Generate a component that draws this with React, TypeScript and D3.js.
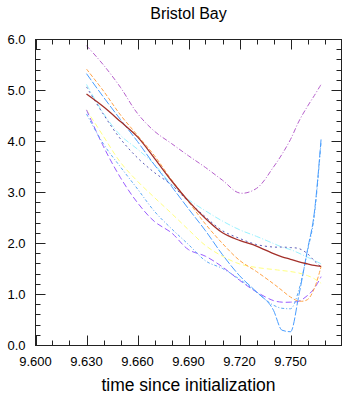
import React, { useEffect, useRef } from "react";
import * as d3 from "d3";

// sample times shared by every series
const times = [9.63, 9.64, 9.65, 9.66, 9.67, 9.68, 9.69, 9.7, 9.71, 9.72, 9.73, 9.74, 9.745, 9.75, 9.755, 9.76, 9.764, 9.768];

const magentaVals = [5.88, 5.5, 5.06, 4.55, 4.2, 3.96, 3.72, 3.49, 3.24, 2.99, 3.08, 3.5, 3.75, 4.04, 4.4, 4.69, 4.9, 5.12];
const orangeVals = [5.42, 4.99, 4.52, 4.12, 3.72, 3.25, 2.82, 2.38, 2.0, 1.67, 1.45, 1.21, 1.08, 0.95, 0.87, 0.9, 1.12, 1.55];
const blueAVals = [5.33, 4.87, 4.43, 4.0, 3.54, 3.12, 2.68, 2.25, 1.78, 1.37, 1.05, 0.69, 0.3, 0.27, 1.0, 1.88, 2.6, 4.05];
const cyanVals = [5.12, 4.55, 4.12, 3.85, 3.55, 3.16, 2.86, 2.64, 2.44, 2.27, 2.14, 2.0, 1.93, 1.88, 1.81, 1.73, 1.67, 1.6];
const navyVals = [5.07, 4.53, 4.05, 3.68, 3.39, 3.15, 2.82, 2.52, 2.25, 2.1, 1.98, 1.93, 1.93, 1.92, 1.9, 1.8, 1.66, 1.54];
const brownVals = [4.93, 4.68, 4.39, 4.09, 3.67, 3.23, 2.83, 2.49, 2.21, 2.06, 1.95, 1.8, 1.74, 1.69, 1.64, 1.6, 1.57, 1.55];
const violetVals = [4.62, 3.9, 3.29, 2.8, 2.43, 2.21, 1.88, 1.75, 1.54, 1.28, 1.05, 0.88, 0.85, 0.85, 0.87, 0.98, 1.12, 1.35];
const blueBVals = [4.54, 3.95, 3.5, 3.07, 2.63, 2.29, 1.98, 1.66, 1.51, 1.3, 1.05, 0.79, 0.73, 0.72, 1.1, 1.85, 2.55, 4.0];
const yellowVals = [4.62, 4.1, 3.59, 3.22, 2.9, 2.59, 2.27, 1.96, 1.75, 1.6, 1.53, 1.49, 1.47, 1.45, 1.42, 1.37, 1.31, 1.22];

const xMajor = [9.6, 9.63, 9.66, 9.69, 9.72, 9.75];
const xMinor = [9.61, 9.62, 9.64, 9.65, 9.67, 9.68, 9.7, 9.71, 9.73, 9.74, 9.76, 9.77];
const yMajor = [0, 1, 2, 3, 4, 5, 6];

const series = [
  { name: "yellow", vals: yellowVals, color: "#ffff80", dash: "5,3", w: 1, sharp: false },
  { name: "cyan", vals: cyanVals, color: "#99f2ff", dash: "6,2,1,2", w: 1, sharp: false },
  { name: "violet", vals: violetVals, color: "#9a5cff", dash: "6,3", w: 1, sharp: false },
  { name: "blueB", vals: blueBVals, color: "#5eaaf5", dash: "3,2,1,2", w: 1, sharp: true },
  { name: "blueA", vals: blueAVals, color: "#4a9eff", dash: "8,2", w: 1, sharp: true },
  { name: "orange", vals: orangeVals, color: "#ffa347", dash: "4,2", w: 1, sharp: false },
  { name: "navy", vals: navyVals, color: "#5a5ab8", dash: "2,3", w: 1, sharp: false },
  { name: "magenta", vals: magentaVals, color: "#b660cc", dash: "5,2,1,2", w: 1, sharp: false },
  { name: "brown", vals: brownVals, color: "#a3302a", dash: null, w: 1.3, sharp: false },
];

export default function App() {
  const ref = useRef<SVGSVGElement>(null);

  useEffect(() => {
    const svg = d3.select(ref.current);
    svg.selectAll("*").remove();

    const left = 35.5, right = 341.5, top = 39.5, bottom = 345.5;
    const x = d3.scaleLinear().domain([9.6, 9.78]).range([left, right]);
    const y = d3.scaleLinear().domain([0, 6]).range([bottom, top]);

    const font = "'Liberation Sans', Arial, Helvetica, sans-serif";

    const smooth = d3.line<number>()
      .x((d, i) => x(times[i]))
      .y((d) => y(d))
      .curve(d3.curveCatmullRom.alpha(0.5));
    const sharp = d3.line<number>()
      .x((d, i) => x(times[i]))
      .y((d) => y(d))
      .curve(d3.curveMonotoneX);

    const g = svg.append("g");
    series.forEach((s) => {
      g.append("path")
        .attr("d", (s.sharp ? sharp : smooth)(s.vals))
        .attr("fill", "none")
        .attr("stroke", s.color)
        .attr("stroke-width", s.w)
        .attr("stroke-dasharray", s.dash)
        .attr("stroke-linejoin", "round");
    });

    // frame
    svg.append("rect")
      .attr("x", left).attr("y", top)
      .attr("width", right - left).attr("height", bottom - top)
      .attr("fill", "none").attr("stroke", "#222").attr("stroke-width", 1);

    const ticks = svg.append("g").attr("stroke", "#222").attr("stroke-width", 1);
    const tickX = (v: number, len: number) => {
      const px = Math.round(x(v)) + 0.5;
      ticks.append("line").attr("x1", px).attr("x2", px).attr("y1", bottom).attr("y2", bottom - len);
      ticks.append("line").attr("x1", px).attr("x2", px).attr("y1", top).attr("y2", top + len);
    };
    xMajor.forEach((v) => tickX(v, 10));
    xMinor.forEach((v) => tickX(v, 5));

    const tickY = (v: number, len: number) => {
      const py = Math.round(y(v) - 0.5) + 0.5;
      ticks.append("line").attr("x1", left).attr("x2", left + len).attr("y1", py).attr("y2", py);
      ticks.append("line").attr("x1", right).attr("x2", right - len).attr("y1", py).attr("y2", py);
    };
    yMajor.forEach((v) => tickY(v, 10));
    d3.range(1, 30).filter((k) => k % 5 !== 0).forEach((k) => tickY(k * 0.2, 5));

    // labels
    svg.append("g").selectAll("text").data(xMajor).enter().append("text")
      .attr("x", (d) => x(d)).attr("y", 366)
      .attr("text-anchor", "middle")
      .style("font-family", font).style("font-size", "13px")
      .text((d) => d3.format(".3f")(d));

    svg.append("g").selectAll("text").data(yMajor).enter().append("text")
      .attr("x", 25.5).attr("y", (d) => y(d) + 4.5)
      .attr("text-anchor", "end")
      .style("font-family", font).style("font-size", "13px")
      .text((d) => d3.format(".1f")(d));

    svg.append("text")
      .attr("x", 188.5).attr("y", 19)
      .attr("text-anchor", "middle")
      .style("font-family", font).style("font-size", "16px")
      .text("Bristol Bay");

    svg.append("text")
      .attr("x", 188.5).attr("y", 391)
      .attr("text-anchor", "middle")
      .style("font-family", font).style("font-size", "17.5px")
      .text("time since initialization");
  }, []);

  return (
    <svg ref={ref} width={363} height={402}
      style={{ position: "absolute", left: 0, top: 0, background: "#fff" }} />
  );
}
